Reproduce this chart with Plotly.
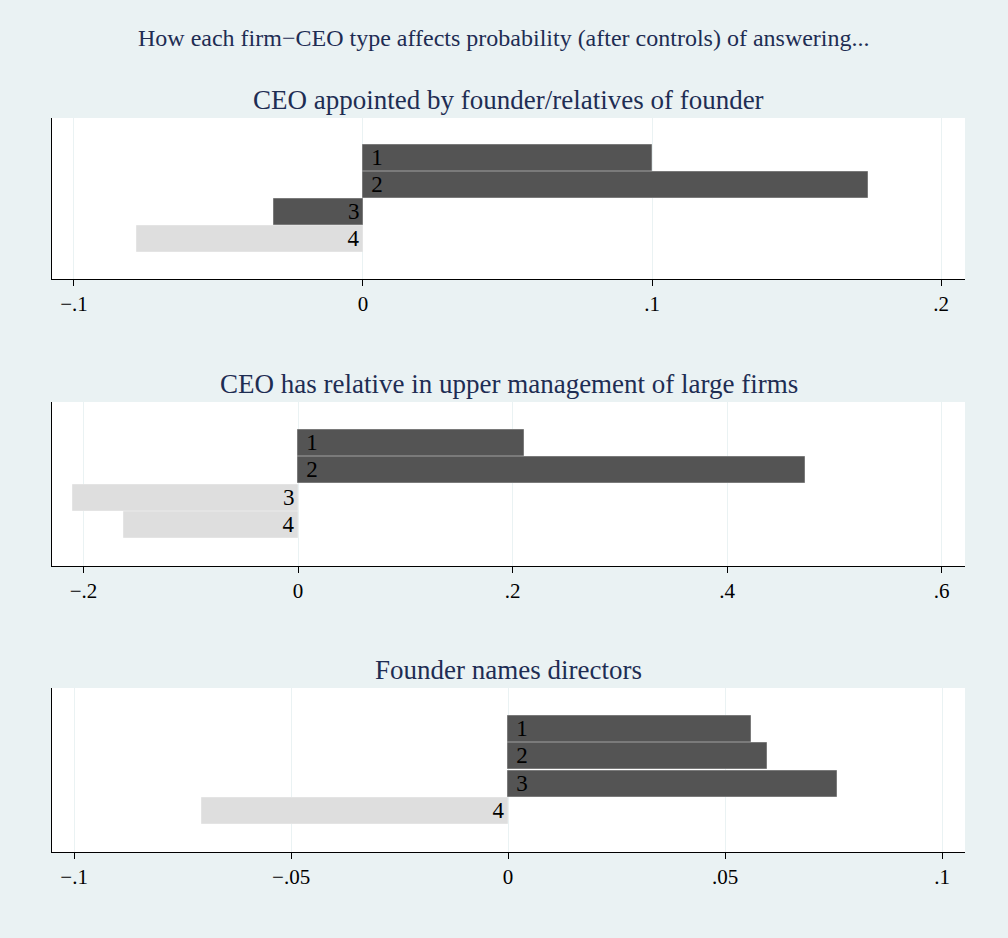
import plotly.graph_objects as go

categories = [1, 2, 3, 4]
labels = ["1", "2", "3", "4"]

titles = [
    "CEO appointed by founder/relatives of founder",
    "CEO has relative in upper management of large firms",
    "Founder names directors",
]
values_1 = [0.100, 0.1746, -0.0308, -0.0783]
values_2 = [0.2107, 0.4723, -0.2098, -0.1622]
values_3 = [0.0560, 0.0597, 0.0759, -0.0706]
dark_1 = [True, True, True, False]
dark_2 = [True, True, False, False]
dark_3 = [True, True, True, False]

tickvals_1 = [-0.1, 0, 0.1, 0.2]
ticktext_1 = ["\u2212.1", "0", ".1", ".2"]
tickvals_2 = [-0.2, 0, 0.2, 0.4, 0.6]
ticktext_2 = ["\u2212.2", "0", ".2", ".4", ".6"]
tickvals_3 = [-0.1, -0.05, 0, 0.05, 0.1]
ticktext_3 = ["\u2212.1", "\u2212.05", "0", ".05", ".1"]
xranges = [[-0.1076, 0.2083], [-0.2294, 0.6219], [-0.1051, 0.1053]]

W, H = 1008, 938
BG = "#EAF2F3"
DARK = "#545454"
LIGHT = "#DEDEDE"
FONT = "Liberation Serif"
TITLE_COLOR = "#1E2D53"

panels = [
    (values_1, dark_1, tickvals_1, ticktext_1, 118, 279),
    (values_2, dark_2, tickvals_2, ticktext_2, 402, 566),
    (values_3, dark_3, tickvals_3, ticktext_3, 688, 852),
]

fig = go.Figure()
layout = {}
annotations = []
for i, (vals, dark, tv, tt, top, bot) in enumerate(panels):
    n = "" if i == 0 else str(i + 1)
    colors = [DARK if d else LIGHT for d in dark]
    lines = ["#7a7a7a" if d else "#e4e4e4" for d in dark]
    texts = [(" " + lab) if v >= 0 else lab for lab, v in zip(labels, vals)]
    fig.add_trace(go.Bar(
        y=categories, x=vals, orientation="h",
        marker=dict(color=colors, line=dict(color=lines, width=1)),
        width=0.95,
        text=texts, textposition="inside", insidetextanchor="start",
        textangle=0, constraintext="none", cliponaxis=False,
        textfont=dict(family=FONT, size=23, color="#000000"),
        xaxis="x" + n, yaxis="y" + n, showlegend=False,
        hoverinfo="x+y",
    ))
    layout["xaxis" + n] = dict(
        domain=[52 / W, 965 / W], anchor="y" + n, range=xranges[i],
        tickvals=tv, ticktext=tt, ticks="outside", ticklen=6,
        tickcolor="#000000", tickwidth=1,
        showline=True, linecolor="#000000", linewidth=1,
        showgrid=True, gridcolor=BG, gridwidth=1, zeroline=False,
        tickfont=dict(family=FONT, size=21, color="#000000"),
        fixedrange=True,
    )
    layout["yaxis" + n] = dict(
        domain=[(H - bot) / H, (H - top) / H], anchor="x" + n,
        range=[5.48, -0.48], showticklabels=False, ticks="",
        showline=True, linecolor="#000000", linewidth=1,
        showgrid=False, zeroline=False, fixedrange=True,
    )
    annotations.append(dict(
        text=titles[i], x=(52 + 965) / 2 / W, xref="paper",
        y=(H - (top - 18)) / H, yref="paper", showarrow=False,
        xanchor="center", yanchor="middle",
        font=dict(family=FONT, size=27, color=TITLE_COLOR),
    ))

annotations.append(dict(
    text="How each firm\u2212CEO type affects probability (after controls) of answering...",
    x=0.5, xref="paper", y=(H - 38) / H, yref="paper", showarrow=False,
    xanchor="center", yanchor="middle",
    font=dict(family=FONT, size=24, color=TITLE_COLOR),
))

fig.update_layout(
    width=W, height=H, paper_bgcolor=BG, plot_bgcolor="#FFFFFF",
    margin=dict(l=0, r=0, t=0, b=0), annotations=annotations,
    bargap=0, **layout,
)
fig.write_html(
    "out.html",
    config={"displayModeBar": False},
    post_script="document.body.style.margin='0px';",
)
